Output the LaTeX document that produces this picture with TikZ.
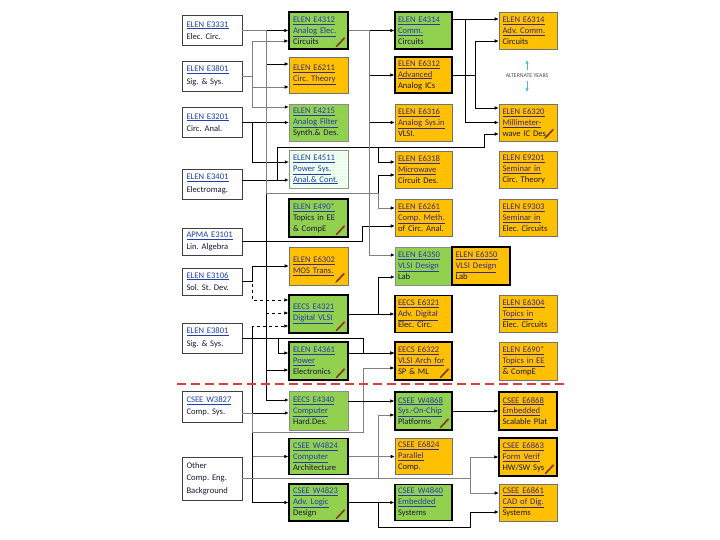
\documentclass[tikz,border=0pt]{standalone}
\usepackage{fontspec}
\setmainfont{Carlito}
\usepackage{xcolor}
\usetikzlibrary{arrows.meta,patterns}
\definecolor{eegreen}{HTML}{92D050}
\definecolor{eeorange}{HTML}{FFC000}
\definecolor{lkblue}{HTML}{1F3FAA}
\definecolor{lkpurp}{HTML}{40287A}
\definecolor{plain}{HTML}{1A1A3A}
\definecolor{pencil}{HTML}{B5561C}
\definecolor{altblue}{HTML}{4FB3D9}
\definecolor{reddash}{HTML}{E03C3C}
\newcommand{\lk}[1]{\underline{#1}}
\newcommand{\pl}[1]{\textcolor{plain}{#1}}
% pencil tick in the lower right corner of a box
\newcommand{\tick}[1]{%
  \draw[line width=1.9pt, pencil] ([shift={(-12pt,3.5pt)}]#1.south east) -- ([shift={(-4pt,12pt)}]#1.south east);
  \draw[line width=0.5pt, black!80] ([shift={(-12.8pt,2.6pt)}]#1.south east) -- ([shift={(-4.8pt,11.1pt)}]#1.south east);}
\frenchspacing

\begin{document}
\begin{tikzpicture}[
  x=1pt, y=-1pt,
  every node/.style={font=\fontsize{8.6}{10.9}\selectfont},
  box/.style={minimum width=59pt, minimum height=37pt, inner sep=0pt, text width=51pt, align=left},
  wbox/.style={box, minimum width=60pt, minimum height=30pt, draw=black!75, line width=0.6pt, fill=white, text=lkblue,
               font=\fontsize{8.6}{12.4}\selectfont},
  gbox/.style={box, fill=eegreen, draw=black, line width=1.4pt, text=lkblue},
  gthin/.style={box, fill=eegreen, draw=black!45, line width=0.5pt, text=lkblue},
  obox/.style={box, fill=eeorange, draw=black!55, line width=0.6pt, text=lkpurp},
  othick/.style={box, fill=eeorange, draw=black, line width=1.4pt, text=lkpurp},
  dotbox/.style={box, fill=green!4!white, draw=black!45, line width=0.5pt, text=lkblue,
                 postaction={pattern=dots, pattern color=green!45!white}},
  ln/.style={draw=black, line width=0.6pt},
  ar/.style={ln, -{Latex[length=4pt,width=3.6pt,color=black]}},
  arg/.style={ar, draw=black!50},
  thk/.style={ar, line width=1.6pt},
]
\useasboundingbox (0,0) rectangle (720,540);
\fill[white] (0,0) rectangle (720,540);

% column 1
\node[wbox] (e3331)  at (212,30.5)  {\lk{ELEN E3331}\\\pl{Elec. Circ.}};
\node[wbox] (e3801a) at (212,76)    {\lk{ELEN E3801}\\\pl{Sig. \& Sys.}};
\node[wbox] (e3201)  at (212,122.5) {\lk{ELEN E3201}\\\pl{Circ. Anal.}};
\node[wbox] (e3401)  at (212,184)   {\lk{ELEN E3401}\\\pl{Electromag.}};
\node[wbox, minimum height=27pt] (apma)  at (212,241.5) {\lk{APMA E3101}\\\pl{Lin. Algebra}};
\node[wbox, minimum height=27pt] (e3106) at (212,281.5) {\lk{ELEN E3106}\\\pl{Sol. St. Dev.}};
\node[wbox] (e3801b) at (212,338)   {\lk{ELEN E3801}\\\pl{Sig. \& Sys.}};
\node[wbox, minimum height=31pt] (w3827) at (212,406.5) {\lk{CSEE W3827}\\\pl{Comp. Sys.}};
\node[wbox, minimum height=43pt] (other) at (212,478.5) {\pl{Other}\\\pl{Comp. Eng.}\\\pl{Background}};

% column 2
\node[gbox]   (e4312) at (318.5,30.5)  {\lk{ELEN E4312}\\\lk{Analog Elec.}\\\pl{Circuits}};
\node[obox, minimum height=36pt] (e6211) at (318.5,75) {\lk{ELEN E6211}\\\lk{Circ. Theory}};
\node[gthin]  (e4215) at (318.5,122.5) {\lk{ELEN E4215}\\\lk{Analog Filter}\\\pl{Synth.\& Des.}};
\node[dotbox, minimum height=38pt] (e4511) at (318.5,169.5) {\lk{ELEN E4511}\\\lk{Power Sys.}\\\lk{Anal.\& Cont.}};
\node[gbox, minimum height=38pt] (e490) at (318.5,218) {\lk{ELEN E490*}\\\pl{Topics in EE}\\\pl{\& CompE}};
\node[obox, minimum height=38pt] (e6302) at (318.5,266) {\lk{ELEN E6302}\\\lk{MOS Trans.}\\ };
\node[gbox, minimum height=38pt] (e4321) at (318.5,314) {\lk{EECS E4321}\\\lk{Digital VLSI}\\ };
\node[gbox, minimum height=38pt] (e4361) at (318.5,361) {\lk{ELEN E4361}\\\lk{Power}\\\pl{Electronics}};
\node[gthin, minimum height=39pt] (e4340) at (318.5,411) {\lk{EECS E4340}\\\lk{Computer}\\\pl{Hard.Des.}};
\node[gbox, minimum height=36pt] (w4824) at (318.5,456.5) {\lk{CSEE W4824}\\\lk{Computer}\\\pl{Architecture}};
\node[gbox]   (w4823) at (318.5,502.5) {\lk{CSEE W4823}\\\lk{Adv. Logic}\\\pl{Design}};

% column 3
\node[gbox, minimum width=57pt]   (e4314) at (423.5,30.5)  {\lk{ELEN E4314}\\\lk{Comm.}\\\pl{Circuits}};
\node[othick, minimum width=57pt, minimum height=36pt] (e6312) at (423.5,75) {\lk{ELEN E6312}\\\lk{Advanced}\\\pl{Analog ICs}};
\node[obox, minimum width=57pt]   (e6316) at (423.5,122.5) {\lk{ELEN E6316}\\\lk{Analog Sys.in}\\\pl{VLSI.}};
\node[obox, minimum width=57pt]   (e6318) at (423.5,169.5) {\lk{ELEN E6318}\\\lk{Microwave}\\\pl{Circuit Des.}};
\node[obox, minimum width=57pt]   (e6261) at (423.5,218)   {\lk{ELEN E6261}\\\lk{Comp. Meth.}\\\pl{of Circ. Anal.}};
\node[gthin, minimum width=57pt, minimum height=38pt] (e4350) at (423.5,266) {\lk{ELEN E4350}\\\lk{VLSI Design}\\\pl{Lab}};
\node[othick, minimum width=58pt, minimum height=38pt] (e6350) at (481,266) {\lk{ELEN E6350}\\\lk{VLSI Design}\\\pl{Lab}};
\node[othick, minimum width=57pt] (e6321) at (423.5,314)   {\lk{EECS E6321}\\\lk{Adv. Digital}\\\pl{Elec. Circ.}};
\node[othick, minimum width=57pt, minimum height=38pt] (e6322) at (423.5,361) {\lk{EECS E6322}\\\lk{VLSI Arch for}\\\pl{SP \& ML}};
\node[gbox, minimum width=57pt, minimum height=38pt] (w4868) at (423.5,411) {\lk{CSEE W4868}\\\lk{Sys.-On-Chip}\\\pl{Platforms}};
\node[obox, minimum width=57pt, minimum height=36pt] (e6824) at (423.5,456.5) {\lk{CSEE E6824}\\\lk{Parallel}\\\pl{Comp.}};
\node[gbox, minimum width=57pt, minimum height=36pt] (w4840) at (423.5,502.5) {\lk{CSEE W4840}\\\lk{Embedded}\\\pl{Systems}};

% column 4
\node[obox, minimum width=58pt] (e6314) at (528,30.5)  {\lk{ELEN E6314}\\\lk{Adv. Comm.}\\\pl{Circuits}};
\node[obox, minimum width=58pt] (e6320) at (528,122.5) {\lk{ELEN E6320}\\\lk{Millimeter-}\\\pl{wave IC Des.}};
\node[obox, minimum width=58pt] (e9201) at (528,169.5) {\lk{ELEN E9201}\\\lk{Seminar in}\\\pl{Circ. Theory}};
\node[obox, minimum width=58pt] (e9303) at (528,218)   {\lk{ELEN E9303}\\\lk{Seminar in}\\\pl{Elec. Circuits}};
\node[obox, minimum width=58pt] (e6304) at (528,314)   {\lk{ELEN E6304}\\\lk{Topics in}\\\pl{Elec. Circuits}};
\node[obox, minimum width=58pt, minimum height=38pt] (e690) at (528,361) {\lk{ELEN E690*}\\\lk{Topics in EE}\\\pl{\& CompE}};
\node[othick, minimum width=58pt, minimum height=38pt] (e6868) at (528,411) {\lk{CSEE E6868}\\\lk{Embedded}\\\pl{Scalable Plat}};
\node[othick, minimum width=58pt, minimum height=38pt] (e6863) at (528,457) {\lk{CSEE E6863}\\\lk{Form Verif}\\\pl{HW/SW Sys}};
\node[obox, minimum width=58pt] (e6861) at (528,502.5) {\lk{CSEE E6861}\\\lk{CAD of Dig.}\\\pl{Systems}};

\node[font=\fontsize{5.8}{6}\selectfont, text=black!70] (alt) at (527,75.5) {ALTERNATE YEARS};
\draw[altblue, line width=0.8pt, -{Latex[length=3.5pt,width=3.5pt]}] (alt.north) -- ++(0,-10);
\draw[altblue, line width=0.8pt, -{Latex[length=3.5pt,width=3.5pt]}] (alt.south) -- ++(0,11);

% ticks
\tick{e4312} \tick{e490} \tick{e6302} \tick{e4321} \tick{e4361} \tick{w4823}
\tick{e6320} \tick{e6322} \tick{w4868} \tick{e6863}

% column 1 -> column 2
\draw[ar] (e3331) -- (e4312);
\draw[ar] (e3331.east) -| (266,64) -- ([yshift=11pt]e6211.west);
\draw[ar, dashed] (e3331.east) -| (266,313) -- ([yshift=1pt]e4321.west);
\draw[ar] (e3331.east) -| (266,370) -- ([yshift=-9pt]e4361.west);
\draw[ar] (e3331.east) -| (266,400) -- ([yshift=11pt]e4340.west);
\draw[arg] (e3801a.east) -| (252,41) -- ([yshift=-10.5pt]e4312.west);
\draw[arg] (e3801a.east) -| (252,87) -- ([yshift=-12pt]e6211.west);
\draw[arg] (e3801a.east) -| (252,107) -- ([yshift=15.5pt]e4215.west);
\draw[ar] (e3201) -- (e4215);
\draw[ar] (e3201.east) -| (252,162) -- ([yshift=7.5pt]e4511.west);
\draw[ar] ([yshift=4pt]e3401.east) -- ([yshift=-10.5pt]e4511.west);
\draw[ar] (e3106.east) -| (252,266) -- (e6302.west);
\draw[ar, dashed] (e3106.east) -| (252,300) -- ([yshift=14pt]e4321.west);
\draw[ar] (e3801b.east) -| (278,353) -- ([yshift=8pt]e4361.west);
\draw[ln] ([yshift=-6.5pt]w3827.east) -| (252,326);
\draw[ar, dashed] ([yshift=-6.5pt]w3827.east) -| (252,326) -- ([yshift=-12pt]e4321.west);
\draw[ar] ([yshift=-6.5pt]w3827.east) -- ([yshift=-2pt]e4340.west);
\draw[arg] ([yshift=-6.5pt]w3827.east) -| (252,456.5) -- (w4824.west);
\draw[ar] ([yshift=-6.5pt]w3827.east) -| (252,502.5) -- (w4823.west);

% long runs to column 3 and 4
\draw[ar] ([yshift=4pt]e3401.east) -| (277,147) -| (378,162) -- ([yshift=7.5pt]e6318.west);
\draw[ar] ([yshift=4pt]e3401.east) -| (277,147) -| (484,134) -- ([yshift=-11.5pt]e6320.west);
\draw[ar] (e3331.east) -| (266,193) -| (378,175) -- ([yshift=-5.5pt]e6318.west);
\draw[arg] (e3331.east) -| (266,193) -| (378,208) -- ([yshift=10pt]e6261.west);
\draw[ar] (apma.east) -| (362,226) -- ([yshift=-8pt]e6261.west);
\draw[ar] (e3801b.east) -| (363,353) -- ([yshift=8pt]e6322.west);
\draw[arg] ([yshift=-6.5pt]w3827.east) -| (252,432) -| (363,368) -- ([yshift=-7pt]e6322.west);
\draw[arg] (other.east) -| (378,415) -- ([yshift=-4pt]w4868.west);
\draw[arg] (other.east) -| (470,457) -- (e6863.west);
\draw[arg] (other.east) -| (470,493) -- ([yshift=9.5pt]e6861.west);

% column 2 -> column 3
\draw[ar] (e4312) -- (e4314);
\draw[ar] (e4312.east) -| (369,75) -- (e6312.west);
\draw[ar] (e4312.east) -| (369,122.5) -- (e6316.west);
\draw[arg] (e4312.east) -| (369,255) -- ([yshift=11pt]e4350.west);
\draw[ar] (e4321) -- (e6321);
\draw[ar] (e4321.east) -| (378,277) -- ([yshift=-11pt]e4350.west);
\draw[ar] ([yshift=8pt]e4361.east) -- ([yshift=8pt]e6322.west);
\draw[ar] ([yshift=10pt]e4340.east) -- ([yshift=10pt]w4868.west);
\draw[arg] (w4824) -- (e6824);
\draw[thk] (w4823) -- (w4840);
\draw[ar] (w4823.east) -| (378,527) -| (470,512) -- ([yshift=-9.5pt]e6861.west);

% column 3 -> column 4
\draw[ar] ([yshift=11.5pt]e4314.east) -- ([yshift=11.5pt]e6314.west);
\draw[ar] ([yshift=11.5pt]e4314.east) -| (465,122.5) -- (e6320.west);
\draw[ar] (e6312.east) -| (475,41) -- ([yshift=-10.5pt]e6314.west);
\draw[ar] (e6312.east) -| (475,108) -- ([yshift=14.5pt]e6320.west);
\draw[ar] (w4868) -- (e6868);

% red line between the two areas
\coordinate (redl) at (177,384);
\coordinate (redr) at (565,384);
\draw[reddash, line width=1.4pt, dash pattern=on 9pt off 5pt] (redl) -- (redr);
\end{tikzpicture}
\end{document}
